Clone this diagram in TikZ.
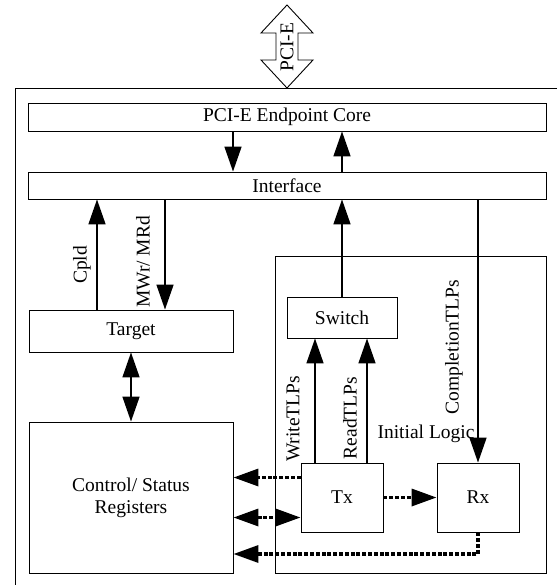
\documentclass[tikz,border=0pt]{standalone}
\usepackage{fontspec}
\setmainfont{Liberation Serif}
\usepackage{tikz}
\usetikzlibrary{arrows.meta,positioning}

\begin{document}
\begin{tikzpicture}[
    x=1pt, y=-1pt,
    font=\fontsize{19.5}{22}\selectfont,
    box/.style={rectangle, draw, line width=0.9pt, inner sep=0pt, align=center},
    arrow/.style={-{Triangle[length=25pt, width=17pt]}, line width=1.6pt},
    dualarrow/.style={{Triangle[length=25pt, width=17pt]}-{Triangle[length=25pt, width=17pt]}, line width=1.6pt},
    dotarrow/.style={arrow, line width=3.4pt, dash pattern=on 4pt off 1.8pt},
    label/.style={rotate=90, inner sep=0pt}
]
    \useasboundingbox (0,0) rectangle (557,585);

    % Outer frame and PCI-E port
    \draw[line width=0.9pt] (557,88) -- (15,88) -- (15,585);
    \draw[line width=0.9pt] (287,5) -- (313,33) -- (298,33) -- (298,60) -- (313,60) -- (287,88)
        -- (261,60) -- (276,60) -- (276,33) -- (261,33) -- cycle;
    \node[label] (pcie) at (287,47) {PCI-E};

    % Core and interface
    \node[box, minimum width=518pt, minimum height=28pt] (core) at (287,117) {PCI-E Endpoint Core};
    \node[box, minimum width=518pt, minimum height=27pt] (iface) at (287,185.5) {Interface};

    % Left side
    \node[box, minimum width=204pt, minimum height=42pt] (target) at (131,331) {Target};
    \node[box, minimum width=204pt, minimum height=151pt] (ctrl) at (131,497.5) {Control/ Status\\Registers};

    % Initial logic block
    \node[box, minimum width=271pt, minimum height=317pt] (logic) at (410.5,414.5) {};
    \node (logictxt) at (426,434) {Initial Logic};
    \node[box, minimum width=110pt, minimum height=41pt] (switch) at (342,317.5) {Switch};
    \node[box, minimum width=82pt, minimum height=69pt] (tx) at (342,497.5) {Tx};
    \node[box, minimum width=82pt, minimum height=69pt] (rx) at (478,497.5) {Rx};
    \coordinate (rxlow) at (478,554);

    % Arrow labels
    \node[label] (cpldtxt) at (82,265) {Cpld};
    \node[label] (mwrtxt) at (143,262) {MWr/ MRd};
    \node[label] (writetxt) at (293,419) {WriteTLPs};
    \node[label] (readtxt) at (350,418) {ReadTLPs};
    \node[label] (compltxt) at (454,347) {CompletionTLPs};

    % Arrows
    \draw[arrow] ([xshift=-54pt]core.south) -- ([xshift=-54pt]core.south |- iface.north);
    \draw[arrow] (switch.north |- iface.north) -- (switch.north |- core.south);
    \draw[arrow] (switch.north) -- (switch.north |- iface.south);
    \draw[arrow] ([xshift=-34pt]target.north) -- ([xshift=-34pt]target.north |- iface.south);
    \draw[arrow] ([xshift=34pt]target.north |- iface.south) -- ([xshift=34pt]target.north);
    \draw[dualarrow] (target.south) -- (ctrl.north);
    \draw[arrow] (rx.north |- iface.south) -- (rx.north);
    \draw[arrow] ([xshift=-27pt]tx.north) -- ([xshift=-27pt]tx.north |- switch.south);
    \draw[arrow] ([xshift=25pt]tx.north) -- ([xshift=25pt]tx.north |- switch.south);
    \draw[dotarrow] (tx.east) -- (rx.west);
    \draw[dotarrow] ([yshift=20pt]tx.west) -- ([yshift=20pt]tx.west -| ctrl.east);
    \draw[dotarrow, {Triangle[length=25pt, width=17pt]}-{Triangle[length=25pt, width=17pt]}] ([yshift=-20pt]tx.west -| ctrl.east) -- ([yshift=-20pt]tx.west);
    \draw[dotarrow] (rx.south) -- (rxlow) -- (rxlow -| ctrl.east);
\end{tikzpicture}
\end{document}
